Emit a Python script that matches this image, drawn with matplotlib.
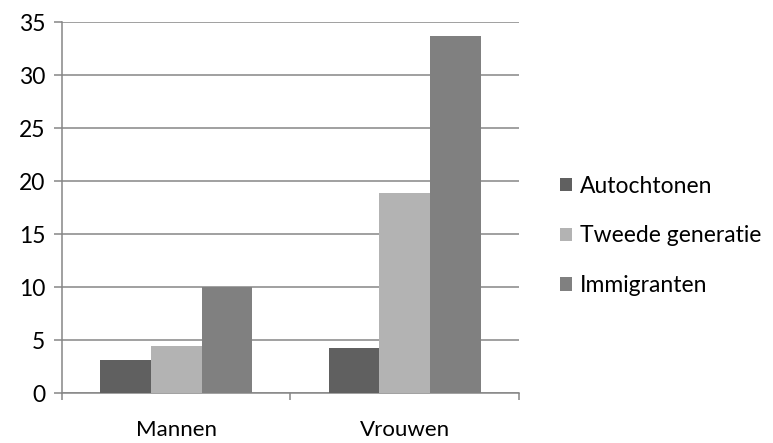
import numpy as np
import matplotlib.pyplot as plt
from matplotlib.ticker import FixedLocator

plt.rcParams['font.family'] = ['Lato', 'DejaVu Sans']

categories = ['Mannen', 'Vrouwen']
series = ['Autochtonen', 'Tweede generatie', 'Immigranten']
autochtonen = [3.1, 4.3]
tweede_generatie = [4.5, 18.9]
immigranten = [10.0, 33.7]
yticks = [0, 5, 10, 15, 20, 25, 30, 35]

colors = ['#606060', '#b3b3b3', '#808080']
values = [autochtonen, tweede_generatie, immigranten]
fs = 16.5

fig = plt.figure(figsize=(7.73, 4.43), dpi=100)
ax = fig.add_axes([0.0802, 0.1122, 0.5912, 0.8375])

x = np.arange(len(categories))
w = 1 / 4.5
for i, (name, vals, c) in enumerate(zip(series, values, colors)):
    ax.bar(x + (i - 1) * w, vals, width=w, color=c, label=name, zorder=3)

ax.set_xlim(-0.5, 1.5)
ax.set_ylim(0, 35)
ax.set_yticks(yticks)
ax.yaxis.grid(True, color='#868686', linewidth=1.1, zorder=0)
ax.set_axisbelow(True)

ax.set_xticks(x)
ax.set_xticklabels(categories)
ax.xaxis.set_minor_locator(FixedLocator([-0.5, 0.5, 1.5]))

for s in ['top', 'right']:
    ax.spines[s].set_visible(False)
for s in ['left', 'bottom']:
    ax.spines[s].set_color('#868686')
    ax.spines[s].set_linewidth(1.1)

ax.tick_params(axis='y', length=6, width=1.1, color='#868686', pad=6, labelsize=fs)
ax.tick_params(axis='x', which='major', length=0, pad=19, labelsize=fs - 0.5)
ax.tick_params(axis='x', which='minor', length=5, width=1.1, color='#868686')

ax.legend(loc='center left', bbox_to_anchor=(1.07, 0.424), frameon=False,
          handlelength=0.5, handleheight=0.5, handletextpad=0.35,
          labelspacing=1.25, fontsize=fs, borderaxespad=0)

fig.savefig('out.png', dpi=100)
